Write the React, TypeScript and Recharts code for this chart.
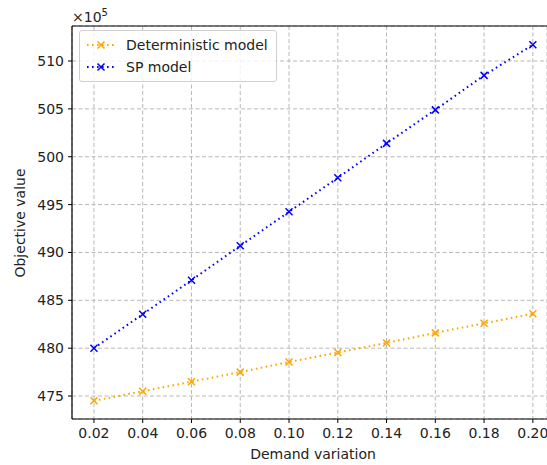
import { LineChart, Line, XAxis, YAxis, CartesianGrid, ReferenceLine } from 'recharts'

const variation = [0.02, 0.04, 0.06, 0.08, 0.1, 0.12, 0.14, 0.16, 0.18, 0.2]
const deterministic = [474.5, 475.5, 476.5, 477.5, 478.55, 479.55, 480.55, 481.6, 482.6, 483.6]
const spModel = [480.0, 483.55, 487.1, 490.7, 494.25, 497.8, 501.4, 504.9, 508.5, 511.7]
const xTicks = [0.02, 0.04, 0.06, 0.08, 0.1, 0.12, 0.14, 0.16, 0.18, 0.2]
const yTicks = [475, 480, 485, 490, 495, 500, 505, 510]

const data = variation.map((v, i) => ({ v, det: deterministic[i], sp: spModel[i] }))

const FONT = '"DejaVu Sans", sans-serif'
const FS = 14
const Y_MAX = 513.66
const DOTS = '1.6 3.4'

const Cross = (props: { cx?: number; cy?: number; stroke?: string; index?: number }) => {
  const { cx, cy, stroke, index } = props
  if (cx == null || cy == null) return null
  const s = 3.5
  return (
    <path
      key={index}
      d={`M${cx - s},${cy - s}L${cx + s},${cy + s}M${cx - s},${cy + s}L${cx + s},${cy - s}`}
      stroke={stroke}
      strokeWidth={1.5}
      fill="none"
    />
  )
}

const legendItems = [
  { name: 'Deterministic model', color: 'orange' },
  { name: 'SP model', color: 'blue' },
]

const LegendBox = () => (
  <div
    style={{
      position: 'absolute', left: 79, top: 30,
      border: '1px solid #d0d0d0', borderRadius: 3, background: 'rgba(255,255,255,0.8)',
      padding: '3px 8px 3px 6px', fontFamily: FONT, fontSize: FS, color: '#222', lineHeight: '22px',
    }}
  >
    {legendItems.map((it) => (
      <div key={it.name} style={{ display: 'flex', alignItems: 'center' }}>
        <svg width={30} height={10} style={{ marginRight: 10 }}>
          <line x1={1} y1={5} x2={29} y2={5} stroke={it.color} strokeWidth={2} strokeDasharray={DOTS} />
          <path d="M11.5,1.5L18.5,8.5M11.5,8.5L18.5,1.5" stroke={it.color} strokeWidth={1.5} />
        </svg>
        {it.name}
      </div>
    ))}
  </div>
)

export default function App() {
  return (
    <div style={{ position: 'absolute', left: 0, top: 0, width: 547, height: 465, background: '#fff' }}>
      <LineChart width={547} height={465} data={data} margin={{ top: 26, right: 0, left: 0, bottom: 0 }}>
        <CartesianGrid stroke="#b8b8b8" strokeDasharray="4 2.5" strokeWidth={1} />
        <XAxis
          dataKey="v" type="number" domain={[0.011, 0.2058]} ticks={xTicks} height={46}
          tickFormatter={(t: number) => t.toFixed(2)}
          tick={{ fontSize: FS, fill: '#222', fontFamily: FONT }}
          axisLine={{ stroke: '#000', strokeWidth: 1.2 }} tickLine={{ stroke: '#000' }} tickSize={4} tickMargin={5}
          allowDataOverflow
        />
        <YAxis
          type="number" domain={[472.6, Y_MAX]} ticks={yTicks} width={72}
          tick={{ fontSize: FS, fill: '#222', fontFamily: FONT }}
          axisLine={{ stroke: '#000', strokeWidth: 1.2 }} tickLine={{ stroke: '#000' }} tickSize={4} tickMargin={4}
          allowDataOverflow
        />
        <ReferenceLine y={Y_MAX} stroke="#000" strokeWidth={1.2} />
        <Line
          type="linear" dataKey="det" name="Deterministic model" stroke="orange" strokeWidth={2}
          strokeDasharray={DOTS} dot={<Cross />} activeDot={false} isAnimationActive={false}
        />
        <Line
          type="linear" dataKey="sp" name="SP model" stroke="blue" strokeWidth={2}
          strokeDasharray={DOTS} dot={<Cross />} activeDot={false} isAnimationActive={false}
        />
        <text x={313} y={459} textAnchor="middle" style={{ fontSize: FS, fill: '#222', fontFamily: FONT }}>
          Demand variation
        </text>
        <text
          x={20} y={223} textAnchor="middle" dominantBaseline="central" transform="rotate(-90 20 223)"
          style={{ fontSize: FS, fill: '#222', fontFamily: FONT }}
        >
          Objective value
        </text>
        <text x={72} y={22} style={{ fontSize: FS, fill: '#222', fontFamily: FONT }}>
          ×10<tspan dy={-6} fontSize={10}>5</tspan>
        </text>
      </LineChart>
      <LegendBox />
    </div>
  )
}
